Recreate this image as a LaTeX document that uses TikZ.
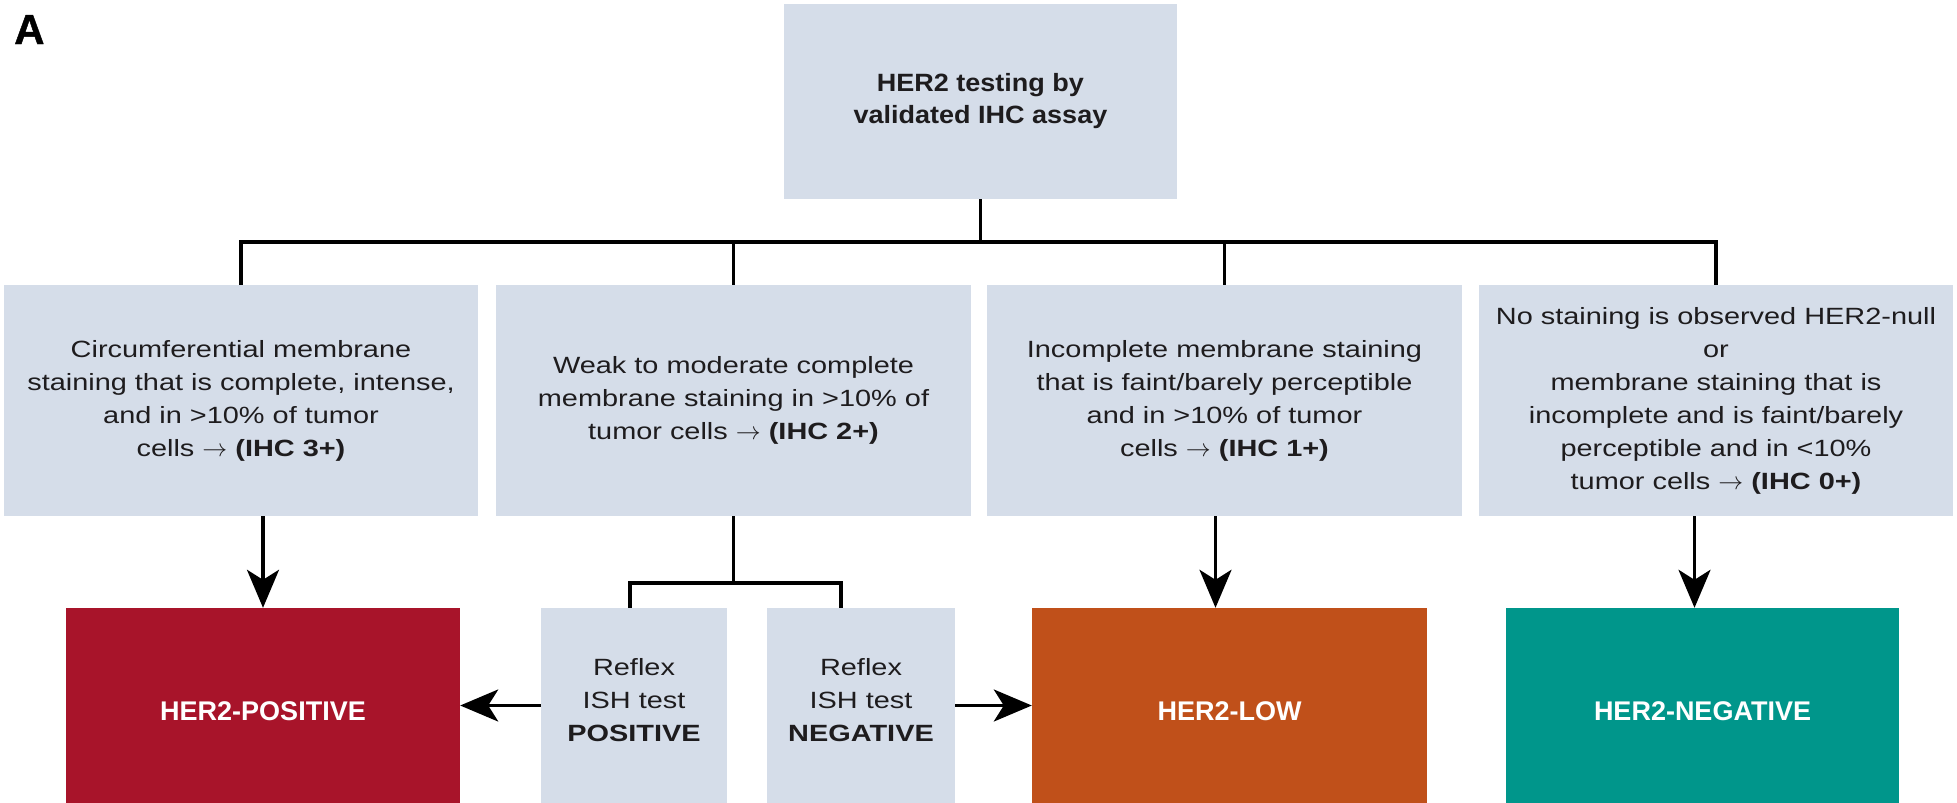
\documentclass[tikz,border=0pt]{standalone}
\usepackage{fontspec}
\setmainfont{Liberation Sans}
\newfontfamily\bodyfont{Liberation Sans}[FakeStretch=1.23]
\newfontfamily\topfont{Liberation Sans}[FakeStretch=1.08]
\newfontfamily\bigfont{Liberation Sans}[FakeBold=1]
\usetikzlibrary{arrows.meta}
\definecolor{boxbg}{RGB}{213,221,233}
\definecolor{txt}{RGB}{30,28,30}
\definecolor{posred}{RGB}{168,20,42}
\definecolor{loworange}{RGB}{192,80,26}
\definecolor{negteal}{RGB}{0,150,139}
\begin{document}
\begin{tikzpicture}[x=1pt,y=-1pt,
  lightbox/.style={fill=boxbg, inner sep=0pt, align=center, text=txt},
  midtext/.style={font=\bodyfont\fontsize{23.5}{33}\selectfont},
  resbox/.style={inner sep=0pt, align=center, text=white,
    minimum width=394pt, minimum height=195pt},
  reslabel/.style={text=white, inner sep=0pt, font=\bfseries\fontsize{27}{32}\selectfont},
  conn/.style={line width=3.4pt, draw=black},
  arr/.style={conn, -{Stealth[length=38pt,width=32pt,inset=10pt]}}
]
\useasboundingbox (0,0) rectangle (1957,803);
\fill[white] (0,0) rectangle (1957,803);

\node[anchor=base west, font=\bigfont\bfseries\fontsize{42}{42}\selectfont, inner sep=0pt] (lblA) at (14,44) {A};

\node[lightbox, minimum width=393pt, minimum height=195pt,
  font=\topfont\bfseries\fontsize{25}{32}\selectfont] (top) at (980.5,101.5)
  {HER2 testing by\\validated IHC assay};

\node[lightbox, midtext, minimum width=474pt, minimum height=231pt] (b1) at (241,400.5)
  {Circumferential membrane\\staining that is complete, intense,\\and in >10\% of tumor\\cells \(\rightarrow\) \textbf{(IHC 3+)}};
\node[lightbox, midtext, minimum width=475pt, minimum height=231pt] (b2) at (733.5,400.5)
  {Weak to moderate complete\\membrane staining in >10\% of\\tumor cells \(\rightarrow\) \textbf{(IHC 2+)}};
\node[lightbox, midtext, minimum width=475pt, minimum height=231pt] (b3) at (1224.5,400.5)
  {Incomplete membrane staining\\that is faint/barely perceptible\\and in >10\% of tumor\\cells \(\rightarrow\) \textbf{(IHC 1+)}};
\node[lightbox, midtext, minimum width=474pt, minimum height=231pt] (b4) at (1716,400.5)
  {No staining is observed HER2-null\\or\\membrane staining that is\\incomplete and is faint/barely\\perceptible and in <10\%\\tumor cells \(\rightarrow\) \textbf{(IHC 0+)}};

\node[resbox, fill=posred] (pos) at (263,705.5) {};
\node[reslabel] (posl) at (263,711) {HER2-POSITIVE};
\node[lightbox, minimum width=186pt, minimum height=195pt] (rpos) at (634,705.5) {};
\node[text=txt, midtext, align=center, inner sep=0pt] (rposl) at (634,700) {Reflex\\ISH test\\\textbf{POSITIVE}};
\node[lightbox, minimum width=188pt, minimum height=195pt] (rneg) at (861,705.5) {};
\node[text=txt, midtext, align=center, inner sep=0pt] (rnegl) at (861,700) {Reflex\\ISH test\\\textbf{NEGATIVE}};
\node[resbox, fill=loworange, minimum width=395pt] (low) at (1229.5,705.5) {};
\node[reslabel] (lowl) at (1229.5,711) {HER2-LOW};
\node[resbox, fill=negteal, minimum width=393pt] (neg) at (1702.5,705.5) {};
\node[reslabel] (negl) at (1702.5,711) {HER2-NEGATIVE};

% tree from the top box
\coordinate (bar) at (0,242);
\draw[conn] (top.south) -- (top.south |- bar);
\draw[conn, line cap=rect] (b1.north |- bar) -- (b4.north |- bar);
\draw[conn] (b1.north |- bar) -- (b1.north);
\draw[conn] (b2.north |- bar) -- (b2.north);
\draw[conn] (b3.north |- bar) -- (b3.north);
\draw[conn] (b4.north |- bar) -- (b4.north);

% arrows down
\draw[arr] (b1.south -| pos.north) -- (pos.north);
\draw[arr] ([xshift=-14pt]b3.south -| low.north) -- ([xshift=-14pt]low.north);
\draw[arr] ([xshift=-8pt]b4.south -| neg.north) -- ([xshift=-8pt]neg.north);

% reflex bracket
\coordinate (brk) at (0,583);
\draw[conn] (b2.south) -- (b2.south |- brk);
\draw[conn] ([xshift=-4pt]rpos.north) -- ([xshift=-4pt]rpos.north |- brk) -- ([xshift=-20pt]rneg.north |- brk) -- ([xshift=-20pt]rneg.north);

% side arrows
\draw[arr] (rpos.west) -- (pos.east);
\draw[arr] (rneg.east) -- (low.west);
\end{tikzpicture}
\end{document}
